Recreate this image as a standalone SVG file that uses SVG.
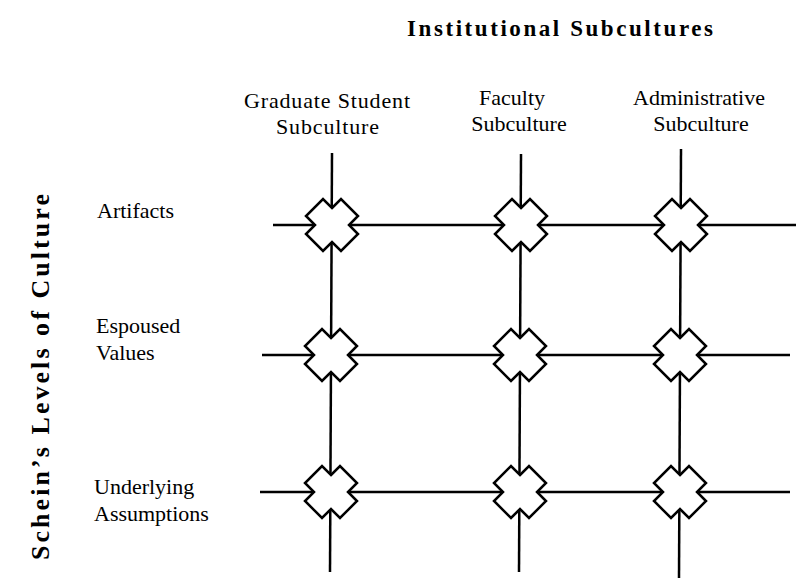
<svg xmlns="http://www.w3.org/2000/svg" width="796" height="578" viewBox="0 0 796 578">
<defs>
<style>
.ln{stroke:#000;stroke-width:2.5;fill:none}
.x{stroke:#000;stroke-width:2.5;fill:#fff;stroke-linejoin:miter}
.t{font-family:"Liberation Serif","Times New Roman",serif;font-size:22px;fill:#000}
.b{font-family:"Liberation Serif","Times New Roman",serif;font-size:23px;font-weight:bold;fill:#000}
</style>
<path id="cross" d="M0,-17 L9,-26 L26,-9 L17,0 L26,9 L9,26 L0,17 L-9,26 L-26,9 L-17,0 L-26,-9 L-9,-26 Z"/>
</defs>
<rect width="796" height="578" fill="#fff"/>
<text class="b" x="407" y="36" textLength="306" lengthAdjust="spacing">Institutional Subcultures</text>
<text class="b" transform="translate(49,560) rotate(-90)" style="font-size:26px" textLength="366" lengthAdjust="spacing">Schein’s Levels of Culture</text>
<g id="col-labels">
<text class="t" x="244" y="108" textLength="166" lengthAdjust="spacing">Graduate Student</text>
<text class="t" x="276" y="134" textLength="103" lengthAdjust="spacing">Subculture</text>
<text class="t" x="512" y="105" text-anchor="middle">Faculty</text>
<text class="t" x="519" y="131" text-anchor="middle">Subculture</text>
<text class="t" x="699" y="105" text-anchor="middle">Administrative</text>
<text class="t" x="701" y="131" text-anchor="middle">Subculture</text>
</g>
<g id="row-labels">
<text class="t" x="97" y="218">Artifacts</text>
<text class="t" x="96" y="333">Espoused</text>
<text class="t" x="96" y="360">Values</text>
<text class="t" x="94" y="494">Underlying</text>
<text class="t" x="94" y="521">Assumptions</text>
</g>
<g id="connectors">
<line class="ln" x1="332" y1="153" x2="330" y2="572"/>
<line class="ln" x1="521" y1="154" x2="519" y2="572"/>
<line class="ln" x1="681" y1="149" x2="679" y2="578"/>
<line class="ln" x1="273" y1="225" x2="796" y2="225"/>
<line class="ln" x1="262" y1="355" x2="790" y2="355"/>
<line class="ln" x1="260" y1="492" x2="790" y2="492"/>
</g>
<g id="n11"><use href="#cross" class="x" x="332" y="225"/></g>
<g id="n12"><use href="#cross" class="x" x="521" y="225"/></g>
<g id="n13"><use href="#cross" class="x" x="681" y="225"/></g>
<g id="n21"><use href="#cross" class="x" x="331" y="355"/></g>
<g id="n22"><use href="#cross" class="x" x="520" y="355"/></g>
<g id="n23"><use href="#cross" class="x" x="680" y="355"/></g>
<g id="n31"><use href="#cross" class="x" x="331" y="492"/></g>
<g id="n32"><use href="#cross" class="x" x="520" y="492"/></g>
<g id="n33"><use href="#cross" class="x" x="680" y="492"/></g>
</svg>
